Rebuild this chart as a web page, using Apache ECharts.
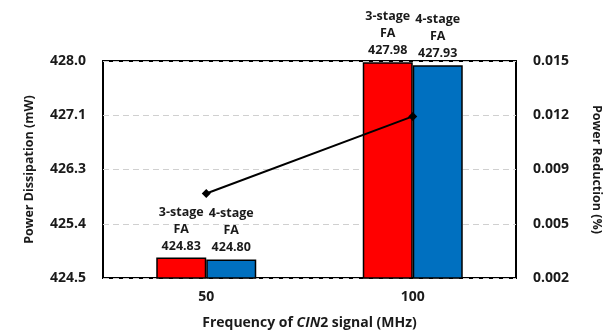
<!DOCTYPE html>
<html>
<head>
<meta charset="utf-8">
<script src="https://cdn.jsdelivr.net/npm/echarts@6/dist/echarts.min.js"></script>
<style>
html,body{margin:0;padding:0;background:#fff;}
#c{width:614px;height:336px;}
</style>
</head>
<body>
<div id="c"></div>
<script>
var categories = ['50', '100'];
var stage3 = [424.83, 427.98];
var stage4 = [424.80, 427.93];
var reduction = [0.00706, 0.01168];
var leftTicks = ['424.5', '425.4', '426.3', '427.1', '428.0'];
var rightTicks = ['0.002', '0.005', '0.009', '0.012', '0.015'];

var FONT = '"Open Sans"';
var TXT = '#1a1a1a';
var chart = echarts.init(document.getElementById('c'));

function barLabel(name) {
  return {
    show: true, position: 'top', distance: 3,
    fontFamily: FONT, fontWeight: 'bold', fontSize: 12.5, color: TXT, lineHeight: 17,
    formatter: function (p) { return name + '\nFA\n' + p.value.toFixed(2); }
  };
}

chart.setOption({
  animation: false,
  grid: { left: 103, right: 98, top: 61, bottom: 58, show: true, borderColor: '#000', borderWidth: 2, backgroundColor: 'transparent' },
  xAxis: {
    type: 'category', data: categories, boundaryGap: true,
    axisLine: { show: false }, axisTick: { show: false },
    axisLabel: { fontFamily: FONT, fontWeight: 'bold', fontSize: 14, color: TXT, margin: 12 },
    name: '{b|Frequency of }{i|CIN}{b|2 signal (MHz)}',
    nameLocation: 'middle', nameGap: 38,
    nameTextStyle: {
      rich: {
        b: { fontFamily: FONT, fontWeight: 'bold', fontSize: 14, color: TXT },
        i: { fontFamily: FONT, fontWeight: 'bold', fontStyle: 'italic', fontSize: 14, color: TXT }
      }
    }
  },
  yAxis: [
    {
      type: 'value', min: 424.5, max: 428.0, interval: 0.875,
      axisLine: { show: false }, axisTick: { show: false },
      splitLine: { show: true, lineStyle: { color: '#d0d0d0', type: [6, 4], width: 1 } },
      axisLabel: { fontFamily: FONT, fontWeight: 'bold', fontSize: 14, color: TXT, margin: 17,
        formatter: function (v, i) { return leftTicks[i]; } },
      name: 'Power Dissipation (mW)', nameLocation: 'middle', nameGap: 67, nameRotate: 90,
      nameTextStyle: { fontFamily: FONT, fontWeight: 'bold', fontSize: 12.5, color: TXT }
    },
    {
      type: 'value', min: 0.002, max: 0.015, interval: 0.00325,
      axisLine: { show: false }, axisTick: { show: false }, splitLine: { show: false },
      axisLabel: { fontFamily: FONT, fontWeight: 'bold', fontSize: 14, color: TXT, margin: 17,
        formatter: function (v, i) { return rightTicks[i]; } },
      name: 'Power Reduction (%)', nameLocation: 'middle', nameGap: 74, nameRotate: -90,
      nameTextStyle: { fontFamily: FONT, fontWeight: 'bold', fontSize: 12.5, color: TXT }
    }
  ],
  series: [
    {
      name: '3-stage FA', type: 'bar', yAxisIndex: 0, data: stage3, barWidth: 50, barGap: '0%',
      itemStyle: { color: '#ff0000', borderColor: '#000', borderWidth: 1.5 },
      label: barLabel('3-stage')
    },
    {
      name: '4-stage FA', type: 'bar', yAxisIndex: 0, data: stage4, barWidth: 50, barGap: '0%',
      itemStyle: { color: '#0070c0', borderColor: '#000', borderWidth: 1.5 },
      label: barLabel('4-stage')
    },
    {
      name: 'Power Reduction', type: 'line', yAxisIndex: 1, data: reduction,
      symbol: 'diamond', symbolSize: 9, z: 5,
      lineStyle: { color: '#000', width: 2 }, itemStyle: { color: '#000' }
    }
  ]
});
</script>
</body>
</html>
